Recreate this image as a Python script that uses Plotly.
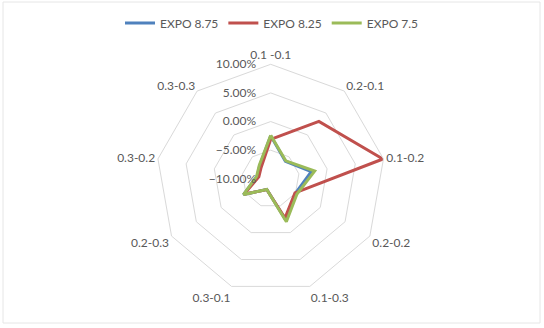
import plotly.graph_objects as go

categories = ["0.1 -0.1", "0.2-0.1", "0.1-0.2", "0.2-0.2", "0.1-0.3",
              "0.3-0.1", "0.2-0.3", "0.3-0.2", "0.3-0.3"]
series_names = ["EXPO 8.75", "EXPO 8.25", "EXPO 7.5"]
expo_875 = [-0.025, -0.060, -0.028, -0.050, -0.024, -0.080, -0.045, -0.076, -0.070]
expo_825 = [-0.031, 0.031, 0.099, -0.051, -0.027, -0.080, -0.046, -0.079, -0.074]
expo_75 = [-0.024, -0.059, -0.022, -0.047, -0.020, -0.080, -0.045, -0.075, -0.069]
colors = ["#4F81BD", "#C0504D", "#9BBB59"]
tick_vals = [-0.10, -0.05, 0.0, 0.05, 0.10]

W, H = 544, 328
FONT = "Lato"
TXT = "#595959"

fig = go.Figure()
for name, vals, col in zip(series_names, [expo_875, expo_825, expo_75], colors):
    fig.add_trace(go.Scatterpolar(
        r=vals + vals[:1], theta=categories + categories[:1],
        mode="lines", name=name, line=dict(color=col, width=3),
    ))

cx, cy, R = 270.7, 178.8, 114.5
fig.update_layout(
    width=W, height=H,
    margin=dict(l=0, r=0, t=0, b=0),
    paper_bgcolor="white",
    font=dict(family=FONT, size=12, color=TXT),
    showlegend=True,
    legend=dict(orientation="h", x=0.5, xanchor="center", y=1 - 23 / H, yanchor="middle",
                font=dict(family=FONT, size=12, color=TXT), itemwidth=30,
                traceorder="normal"),
    polar=dict(
        domain=dict(x=[(cx - R) / W, (cx + R) / W],
                    y=[(H - cy - R) / H, (H - cy + R) / H]),
        gridshape="linear",
        bgcolor="white",
        angularaxis=dict(rotation=90, direction="clockwise",
                         showgrid=False, showline=True, linecolor="#d9d9d9", linewidth=1,
                         ticks="", tickfont=dict(family=FONT, size=12, color=TXT)),
        radialaxis=dict(range=[-0.10, 0.10], tickvals=tick_vals, tickformat=".2%",
                        angle=90, tickangle=90, side="counterclockwise",
                        showline=False, ticks="outside", ticklen=10,
                        tickcolor="rgba(0,0,0,0)", gridcolor="#d9d9d9", gridwidth=1,
                        tickfont=dict(family=FONT, size=12, color=TXT)),
    ),
    shapes=[dict(type="rect", xref="paper", yref="paper",
                 x0=3 / W, x1=540 / W, y0=1 - 323 / H, y1=1 - 2 / H,
                 line=dict(color="#e6e6e6", width=1), fillcolor="rgba(0,0,0,0)")],
)

fig.write_html("out.html")
